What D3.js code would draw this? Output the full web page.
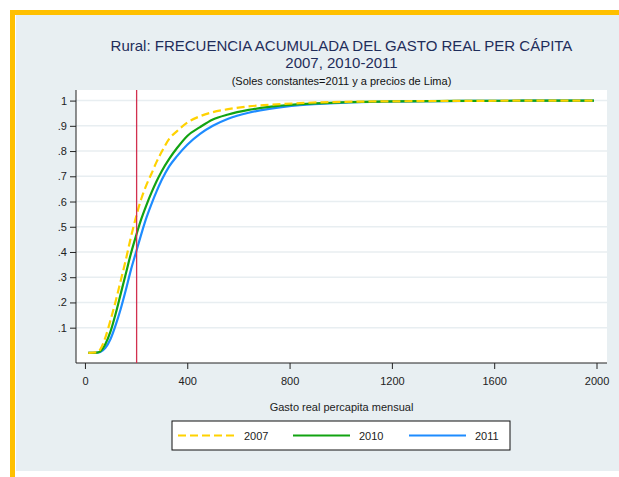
<!DOCTYPE html>
<html>
<head>
    <meta charset="utf-8">
    <title>Frecuencia acumulada</title>
    <script src="https://cdn.jsdelivr.net/npm/d3@7"></script>
    <style>
        body {
            margin: 0;
            padding: 0;
            background-color: white;
            font-family: "Liberation Sans", Arial, sans-serif;
        }
        .tick-label {
            font-size: 11px;
            fill: #222;
        }
        .grid line {
            stroke: #e8eef1;
            stroke-width: 1.5px;
        }
    </style>
</head>
<body>
    <div id="chart"></div>
    <script>
        // gasto real per capita mensual (soles) where each curve is read
        const gasto = [13, 46, 60, 80, 100, 120, 140, 160, 180, 200, 220, 240, 260, 280, 300,
            330, 360, 400, 450, 500, 560, 640, 720, 840, 1000, 1200, 1500, 1990];
        const frec2007 = [0, 0.002, 0.014, 0.062, 0.13, 0.205, 0.287, 0.37, 0.46, 0.54, 0.61, 0.665,
            0.71, 0.757, 0.797, 0.849, 0.879, 0.913, 0.938, 0.954, 0.966, 0.977, 0.983, 0.99, 0.995, 0.997, 0.999, 1];
        const frec2010 = [0, 0.001, 0.006, 0.035, 0.085, 0.155, 0.235, 0.315, 0.395, 0.465, 0.53, 0.585,
            0.635, 0.68, 0.72, 0.77, 0.812, 0.86, 0.895, 0.925, 0.945, 0.963, 0.975, 0.986, 0.993, 0.997, 0.999, 1];
        const frec2011 = [0, 0.001, 0.004, 0.02, 0.055, 0.11, 0.175, 0.25, 0.33, 0.4, 0.47, 0.535,
            0.59, 0.64, 0.685, 0.74, 0.78, 0.825, 0.868, 0.9, 0.928, 0.952, 0.967, 0.982, 0.991, 0.996, 0.999, 1];
        const years = ["2007", "2010", "2011"];
        const xTicks = [0, 400, 800, 1200, 1600, 2000];
        const yTicks = [0.1, 0.2, 0.3, 0.4, 0.5, 0.6, 0.7, 0.8, 0.9, 1];
        const lineaPobreza = 202;

        const W = 619, H = 477;
        const plot = { left: 76, top: 90, right: 607, bottom: 363 };

        const svg = d3.select("#chart").append("svg")
            .attr("width", W)
            .attr("height", H);

        // outer frame
        svg.append("rect").attr("x", 16).attr("y", 15).attr("width", W - 16).attr("height", 456)
            .attr("fill", "#e8eff2");
        svg.append("rect").attr("x", 10).attr("y", 10).attr("width", W - 10).attr("height", 5)
            .attr("fill", "#ffc000");
        svg.append("rect").attr("x", 10).attr("y", 10).attr("width", 5).attr("height", H - 10)
            .attr("fill", "#ffc000");

        svg.append("rect")
            .attr("x", plot.left).attr("y", plot.top)
            .attr("width", plot.right - plot.left).attr("height", plot.bottom - plot.top)
            .attr("fill", "white");

        const x = d3.scaleLinear().domain([-35, 2041]).range([plot.left, plot.right]);
        const y = d3.scaleLinear().domain([-0.04, 1.042]).range([plot.bottom, plot.top]);

        // grid
        svg.append("g").attr("class", "grid")
            .selectAll("line").data(yTicks).join("line")
            .attr("x1", plot.left).attr("x2", plot.right)
            .attr("y1", d => y(d)).attr("y2", d => y(d));

        // titles
        const cx = (plot.left + plot.right) / 2;
        svg.append("text").attr("x", cx).attr("y", 51).attr("text-anchor", "middle")
            .style("font-size", "15px").style("fill", "#1f2d5a")
            .text("Rural: FRECUENCIA ACUMULADA DEL GASTO REAL PER CÁPITA");
        svg.append("text").attr("x", cx).attr("y", 68).attr("text-anchor", "middle")
            .style("font-size", "15px").style("fill", "#1f2d5a")
            .text("2007, 2010-2011");
        svg.append("text").attr("x", cx).attr("y", 85).attr("text-anchor", "middle")
            .style("font-size", "11px").style("fill", "#111")
            .text("(Soles constantes=2011 y a precios de Lima)");

        // axes
        const yAxis = svg.append("g")
            .attr("transform", `translate(${plot.left},0)`)
            .call(d3.axisLeft(y).tickValues(yTicks).tickSize(6).tickPadding(3)
                .tickFormat(d => d === 1 ? "1" : d3.format(".1f")(d).replace(/^0/, "")));
        yAxis.select(".domain").attr("d", `M0,${plot.top}V${plot.bottom}`).attr("stroke", "#222");
        yAxis.selectAll(".tick line").attr("stroke", "#222");
        yAxis.selectAll("text").attr("class", "tick-label").attr("fill", null).style("font-family", "inherit");

        const xAxis = svg.append("g")
            .attr("transform", `translate(0,${plot.bottom})`)
            .call(d3.axisBottom(x).tickValues(xTicks).tickSize(6).tickPadding(8).tickFormat(d3.format("d")));
        xAxis.select(".domain").attr("d", `M${plot.left},0H${plot.right}`).attr("stroke", "#222");
        xAxis.selectAll(".tick line").attr("stroke", "#222");
        xAxis.selectAll("text").attr("class", "tick-label").attr("fill", null).style("font-family", "inherit");

        svg.append("text").attr("x", cx).attr("y", 411).attr("text-anchor", "middle")
            .attr("class", "tick-label")
            .text("Gasto real percapita mensual");

        // curves
        const series = [
            { name: years[0], values: frec2007, color: "#ffd200", dash: "8,4" },
            { name: years[1], values: frec2010, color: "#12a312", dash: null },
            { name: years[2], values: frec2011, color: "#1e8cff", dash: null }
        ];
        const line = d3.line()
            .x((d, i) => x(gasto[i]))
            .y(d => y(d))
            .curve(d3.curveMonotoneX);

        series.slice().reverse().forEach(s => {
            svg.append("path")
                .datum(s.values)
                .attr("d", line)
                .attr("fill", "none")
                .attr("stroke", s.color)
                .attr("stroke-width", 2.2)
                .attr("stroke-dasharray", s.dash);
        });

        // poverty line
        svg.append("line")
            .attr("x1", x(lineaPobreza)).attr("x2", x(lineaPobreza))
            .attr("y1", plot.top).attr("y2", plot.bottom)
            .attr("stroke", "#d2304f").attr("stroke-width", 1.3);

        // legend
        const legend = svg.append("g");
        legend.append("rect").attr("x", 172).attr("y", 421).attr("width", 338).attr("height", 29)
            .attr("fill", "white").attr("stroke", "#111").attr("stroke-width", 1);
        const legendX = [178, 293, 409];
        series.forEach((s, i) => {
            legend.append("line")
                .attr("x1", legendX[i]).attr("x2", legendX[i] + 57)
                .attr("y1", 435.5).attr("y2", 435.5)
                .attr("stroke", s.color).attr("stroke-width", 2)
                .attr("stroke-dasharray", s.dash);
            legend.append("text")
                .attr("x", legendX[i] + 66).attr("y", 439.5)
                .attr("class", "tick-label")
                .text(s.name);
        });
    </script>
</body>
</html>
